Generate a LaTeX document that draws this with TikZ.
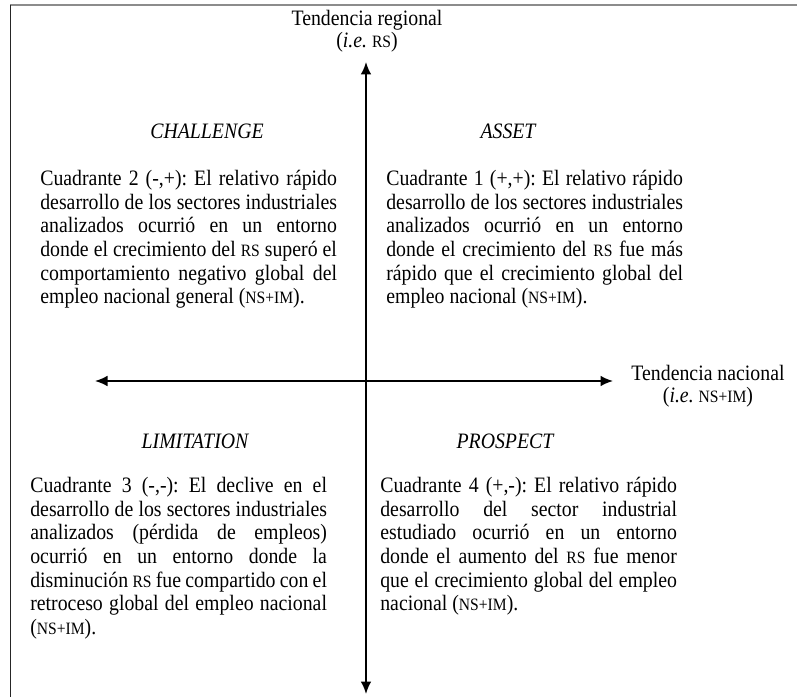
\documentclass[tikz,border=0pt]{standalone}
\usepackage{fontspec}
\setmainfont{Liberation Serif}[FakeStretch=0.9]
\usepackage{tikz}
\usetikzlibrary{arrows.meta, positioning}
\frenchspacing
\newcommand{\smcap}[1]{{\fontsize{10.4pt}{10pt}\selectfont #1}}
\tikzset{
  axisarrow/.style={<->, >={Latex[length=7.5pt,width=6.5pt]}, line width=1.2pt, black},
  quadtitle/.style={font=\fontsize{13.2pt}{14.2pt}\selectfont\itshape, inner sep=0pt},
  quadtext/.style={anchor=north west, text width=178pt, align=justify, inner sep=0pt, font=\fontsize{13.2pt}{14.2pt}\selectfont},
  axislabel/.style={align=center, inner sep=0pt, font=\fontsize{13.2pt}{13.4pt}\selectfont}
}

\begin{document}
\begin{tikzpicture}[x=0.6pt, y=-0.6pt]
  \useasboundingbox (0,0) rectangle (797,697);

  % Frame
  \draw[line width=1.2pt, black!45] (10,5.5) -- (797,5.5);
  \draw[line width=0.9pt, black!85] (10.5,5) -- (10.5,697);

  % Axes
  \coordinate (ytop) at (366,62);
  \coordinate (ybottom) at (366,694);
  \coordinate (xleft) at (95,381);
  \coordinate (xright) at (613,381);
  \draw[axisarrow] (ybottom) -- (ytop);
  \draw[axisarrow] (xleft) -- (xright);

  \node[axislabel] (regional) at (367,31) {Tendencia regional\\(\textit{i.e.} \smcap{RS})};
  \node[axislabel] (nacional) at (708,386) {Tendencia nacional\\(\textit{i.e.} \smcap{NS+IM})};

  % Quadrant titles
  \node[quadtitle] (challenge) at (207,131) {CHALLENGE};
  \node[quadtitle] (asset) at (508,131) {ASSET};
  \node[quadtitle] (limitation) at (195,441) {LIMITATION};
  \node[quadtitle] (prospect) at (505,441) {PROSPECT};

  % Quadrant texts
  \node[quadtext] (quad2) at (40,170) {Cuadrante 2 (-,+): El relativo rápido\linebreak
    desarrollo de los sectores industriales\linebreak
    analizados ocurrió en un entorno\linebreak
    donde el crecimiento del \smcap{RS} superó el\linebreak
    comportamiento negativo global del\linebreak
    empleo nacional general (\smcap{NS+IM}).};
  \node[quadtext] (quad1) at (386,170) {Cuadrante 1 (+,+): El relativo rápido\linebreak
    desarrollo de los sectores industriales\linebreak
    analizados ocurrió en un entorno\linebreak
    donde el crecimiento del \smcap{RS} fue más\linebreak
    rápido que el crecimiento global del\linebreak
    empleo nacional (\smcap{NS+IM}).};
  \node[quadtext] (quad3) at (30,477) {Cuadrante 3 (-,-): El declive en el\linebreak
    desarrollo de los sectores industriales\linebreak
    analizados (pérdida de empleos)\linebreak
    ocurrió en un entorno donde la\linebreak
    disminución \smcap{RS} fue compartido con el\linebreak
    retroceso global del empleo nacional\linebreak
    (\smcap{NS+IM}).};
  \node[quadtext] (quad4) at (380,477) {Cuadrante 4 (+,-): El relativo rápido\linebreak
    desarrollo del sector industrial\linebreak
    estudiado ocurrió en un entorno\linebreak
    donde el aumento del \smcap{RS} fue menor\linebreak
    que el crecimiento global del empleo\linebreak
    nacional (\smcap{NS+IM}).};
\end{tikzpicture}
\end{document}
